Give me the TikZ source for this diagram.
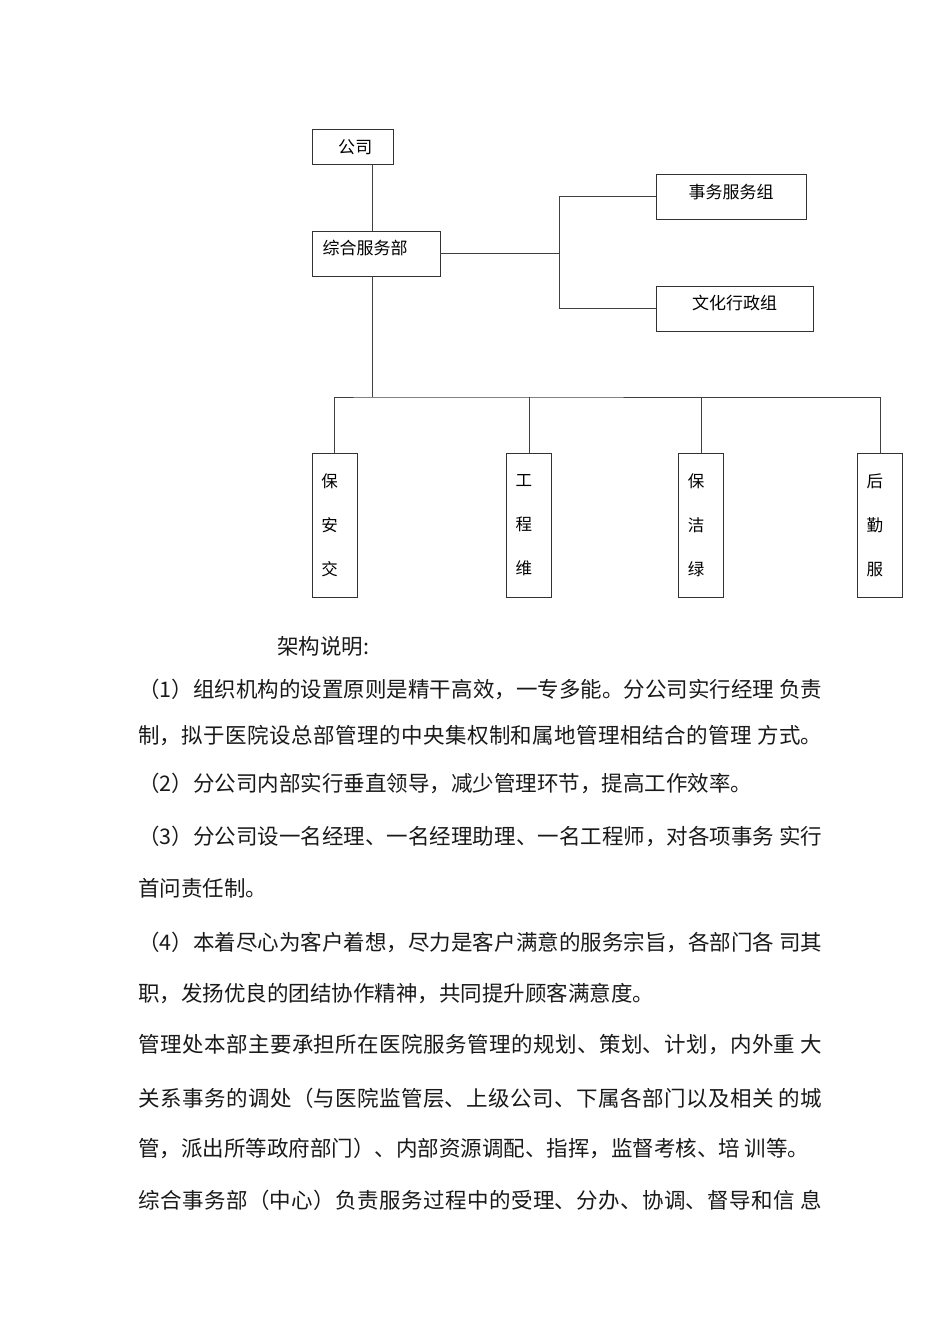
\documentclass[tikz,border=0pt]{standalone}
\usepackage{fontspec}
\setmainfont{Noto Sans CJK SC}
\XeTeXlinebreaklocale "zh"
\XeTeXlinebreakskip=0pt plus 3pt minus 0.5pt

\begin{document}
\begin{tikzpicture}[x=1pt, y=-1pt,
box/.style={draw=black!80, line width=0.8pt, inner ysep=0pt, minimum height=45pt, font=\fontsize{17}{17}\selectfont},
col/.style={box, minimum height=144pt, text width=27pt, inner xsep=9pt, align=left, font=\fontsize{16.5}{44}\selectfont},
para/.style={anchor=west, inner sep=0pt, text=black!90, font=\fontsize{21.5}{21.5}\selectfont},
fullpara/.style={para, text width=684pt, align=justify, execute at begin node={\noindent\parfillskip=0pt\relax}},
wire/.style={draw=black!75, line width=0.8pt}
]
  \useasboundingbox (0,0) rectangle (950,1344);

  \node[box, minimum height=35pt, text width=40pt, inner xsep=20.5pt, align=right] (gongsi) at (352.5,147) {公司};
  \node[box, text width=106.6pt, inner xsep=10.7pt, align=left, text depth=13pt] (zonghe) at (376,253.5) {综合服务部};
  \node[box, minimum width=150pt, text depth=11pt] (shiwu) at (731,196.5) {事务服务组};
  \node[box, minimum width=157pt, text depth=13pt] (wenhua) at (734.5,308.5) {文化行政组};

  \node[col] (baoan) at (334.8,525) {保\\安\\交};
  \node[col] (gongcheng) at (529.2,525) {工\\程\\维};
  \node[col] (baojie) at (701.3,525) {保\\洁\\绿};
  \node[col] (houqin) at (880.2,525) {后\\勤\\服};

  \coordinate (trunk) at (372,397);
  \coordinate (fork) at (559.5,253.5);

  \draw[wire] (gongsi.south -| trunk) -- (zonghe.north -| trunk)
              (zonghe.south -| trunk) -- (trunk);
  \draw[wire] (zonghe.east) -- (fork)
              (shiwu.west) -| (fork) |- (wenhua.west);
  \draw[wire] (baoan.north) |- (trunk) -| (houqin.north)
              (gongcheng.north) -- (gongcheng.north |- trunk)
              (baojie.north) -- (baojie.north |- trunk);

  \node[para] (title) at (277,646) {架构说明:};
  \node[fullpara] (p1a) at (138,689) {（1）组织机构的设置原则是精干高效，一专多能。分公司实行经理 负责};
  \node[fullpara] (p1b) at (138,736) {制，拟于医院设总部管理的中央集权制和属地管理相结合的管理 方式。};
  \node[para] (p2) at (138,783) {（2）分公司内部实行垂直领导，减少管理环节，提高工作效率。};
  \node[fullpara] (p3a) at (138,836) {（3）分公司设一名经理、一名经理助理、一名工程师，对各项事务 实行};
  \node[para] (p3b) at (138,888) {首问责任制。};
  \node[fullpara] (p4a) at (138,942) {（4）本着尽心为客户着想，尽力是客户满意的服务宗旨，各部门各 司其};
  \node[para] (p4b) at (138,994) {职，发扬优良的团结协作精神，共同提升顾客满意度。};
  \node[fullpara] (p5a) at (138,1045) {管理处本部主要承担所在医院服务管理的规划、策划、计划，内外重 大};
  \node[fullpara] (p5b) at (138,1098) {关系事务的调处（与医院监管层、上级公司、下属各部门以及相关 的城};
  \node[para] (p5c) at (138,1148) {管，派出所等政府部门）、内部资源调配、指挥，监督考核、培 训等。};
  \node[fullpara] (p6) at (138,1200) {综合事务部（中心）负责服务过程中的受理、分办、协调、督导和信 息};
\end{tikzpicture}
\end{document}
